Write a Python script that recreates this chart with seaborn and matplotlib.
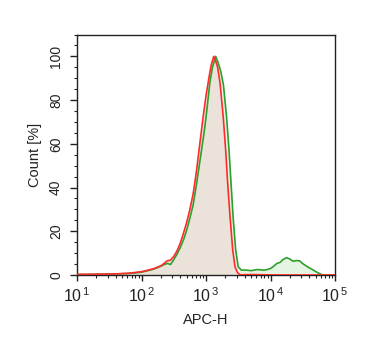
import numpy as np
import pandas as pd
import matplotlib
matplotlib.use("Agg")
import matplotlib.pyplot as plt
import matplotlib.ticker as mticker
import seaborn as sns

# Histogram channels (log10 of APC-H) and percent-of-max counts
red_log = [1.0, 1.2, 1.4, 1.6, 1.8, 2.0, 2.1, 2.2, 2.3, 2.35, 2.4, 2.45, 2.5, 2.55,
           2.6, 2.65, 2.7, 2.75, 2.8, 2.85, 2.9, 2.95, 3.0, 3.05, 3.08, 3.12, 3.15,
           3.18, 3.217, 3.268, 3.305, 3.336, 3.372, 3.414, 3.45, 3.49, 3.53,
           3.7, 3.9, 4.2, 4.6, 5.0]
red_pct = [0.3, 0.3, 0.4, 0.5, 0.8, 1.5, 2.2, 3.0, 4.2, 5.3, 6.5, 6.8, 8.5, 11,
           14.5, 19, 24, 30, 37, 47, 59, 71, 82, 91, 96, 100, 98,
           95, 88, 72, 57, 42, 27, 11.5, 3.7, 1.0, 0.1,
           0.2, 0.1, 0.0, 0.0, 0.0]

green_log = [1.0, 1.2, 1.4, 1.6, 1.8, 2.0, 2.1, 2.2, 2.3, 2.35, 2.4, 2.45, 2.5, 2.55,
             2.6, 2.65, 2.7, 2.75, 2.8, 2.85, 2.88, 2.91, 2.94, 2.97, 3.0, 3.03,
             3.06, 3.1, 3.15, 3.19, 3.23, 3.27, 3.32, 3.357, 3.388, 3.42, 3.46,
             3.5, 3.55, 3.6, 3.7, 3.8, 3.9, 3.95, 4.0, 4.05, 4.1, 4.15, 4.2, 4.25,
             4.3, 4.35, 4.4, 4.45, 4.5, 4.55, 4.6, 4.65, 4.7, 4.75, 4.8, 4.9, 5.0]
green_pct = [0.2, 0.3, 0.4, 0.5, 0.7, 1.3, 2.0, 2.8, 4.0, 4.8, 5.3, 4.8, 7.0, 9.5,
             12.5, 16, 20.5, 26, 32, 41, 47, 53, 59, 65, 72, 80,
             88, 95, 100, 97, 93, 87, 72, 57, 42, 26.6, 11.5,
             3.7, 2.2, 2.3, 2.0, 2.5, 2.2, 2.5, 3.0, 4.0, 5.3, 5.8, 7.2, 7.9,
             7.3, 6.3, 6.6, 6.5, 5.2, 4.2, 3.3, 2.5, 1.6, 0.8, 0.1, 0.0, 0.0]

x_ticks = [1e1, 1e2, 1e3, 1e4, 1e5]
x_tick_labels = [r"$\mathregular{10^{\,1}}$", r"$\mathregular{10^{\,2}}$",
                 r"$\mathregular{10^{\,3}}$", r"$\mathregular{10^{\,4}}$",
                 r"$\mathregular{10^{\,5}}$"]
y_ticks = [0, 20, 40, 60, 80, 100]

sns.set_style("ticks")
plt.rcParams["font.family"] = ["Liberation Sans", "DejaVu Sans"]
plt.rcParams["mathtext.fontset"] = "custom"
plt.rcParams["mathtext.rm"] = "Liberation Sans"
plt.rcParams["mathtext.it"] = "Liberation Sans"
plt.rcParams["mathtext.bf"] = "Liberation Sans"

red = pd.DataFrame({"apc": np.power(10.0, red_log), "pct": red_pct})
green = pd.DataFrame({"apc": np.power(10.0, green_log), "pct": green_pct})

fig = plt.figure(figsize=(3.78, 3.44), dpi=100)
ax = fig.add_axes([77 / 378, 1 - 275 / 344, (335 - 77) / 378, (275 - 34.5) / 344])

ax.fill_between(green["apc"], 0, green["pct"], color="#e6f4e4", lw=0, zorder=1)
ax.fill_between(red["apc"], 0, red["pct"], color="#ebe3da", lw=0, zorder=2)
sns.lineplot(data=green, x="apc", y="pct", ax=ax, color="#2ca02c", lw=1.2,
             zorder=3, sort=False)
sns.lineplot(data=red, x="apc", y="pct", ax=ax, color="#ff2a2a", lw=1.2,
             zorder=4, sort=False)

ax.set_xscale("log")
ax.set_xlim(1e1, 1e5)
ax.set_ylim(0, 110)
ax.set_xticks(x_ticks)
ax.set_xticklabels(x_tick_labels, fontsize=11.5, color="#222222")
ax.xaxis.set_minor_locator(mticker.LogLocator(base=10, subs=np.arange(2, 10)))
ax.xaxis.set_minor_formatter(mticker.NullFormatter())
ax.set_yticks(y_ticks)
ax.set_yticklabels([str(v) for v in y_ticks], rotation=90, va="center",
                   fontsize=10, color="#222222")
ax.yaxis.set_minor_locator(mticker.MultipleLocator(5))

ax.tick_params(axis="x", which="major", length=4, width=1.0, color="#222222",
               direction="out", pad=4)
ax.tick_params(axis="y", which="major", length=5, width=1.0, color="#222222",
               direction="out", pad=5)
ax.tick_params(axis="both", which="minor", length=2.5, width=0.8, color="#222222",
               direction="out")

for side in ["left", "right", "top", "bottom"]:
    ax.spines[side].set_visible(True)
    ax.spines[side].set_linewidth(1.0)
    ax.spines[side].set_color("#222222")

ax.set_xlabel("APC-H", fontsize=10.5, color="#222222", labelpad=6)
ax.set_ylabel("Count [%]", fontsize=10.5, color="#222222", labelpad=5)

fig.savefig("out.png", dpi=100, facecolor="white")
